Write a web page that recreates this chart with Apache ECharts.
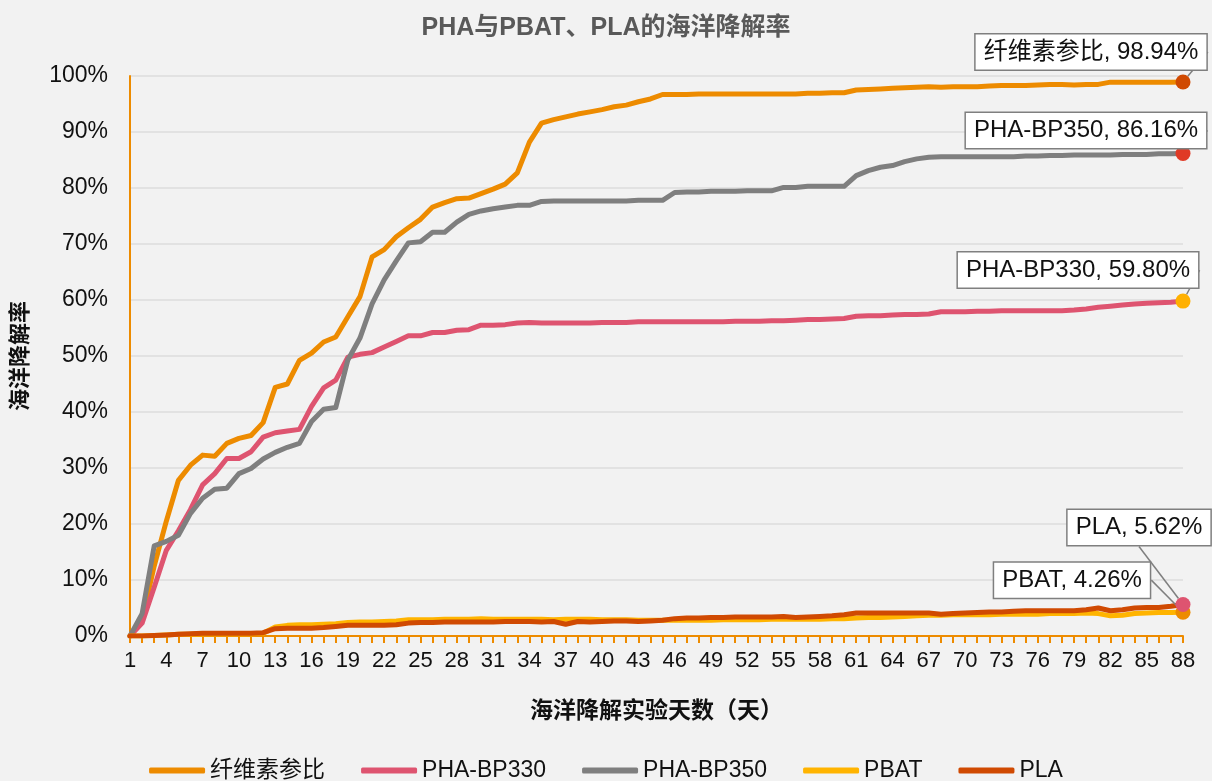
<!DOCTYPE html>
<html>
<head>
<meta charset="utf-8">
<script src="https://cdn.jsdelivr.net/npm/echarts@6/dist/echarts.min.js"></script>
<style>
  html, body { margin: 0; padding: 0; background: #F2F2F2; }
  #chart { width: 1212px; height: 781px; }
</style>
</head>
<body>
<div id="chart"></div>
<script>
// 实验天数 1..88
const days = Array.from({ length: 88 }, (_, i) => String(i + 1));

// 降解率 (%)
const cellulose = [
  0, 3, 12.5, 20.5, 27.8, 30.5, 32.3, 32.1, 34.4, 35.3,
  35.8, 38.1, 44.4, 45.0, 49.2, 50.5, 52.5, 53.4, 57.0, 60.6,
  67.7, 69.0, 71.3, 72.9, 74.4, 76.6, 77.4, 78.1, 78.2, 79.0,
  79.8, 80.7, 82.7, 88.2, 91.6, 92.2, 92.7, 93.2, 93.6, 94.0,
  94.5, 94.8, 95.4, 95.9, 96.7, 96.7, 96.7, 96.8, 96.8, 96.8,
  96.8, 96.8, 96.8, 96.8, 96.8, 96.8, 96.9, 96.9, 97.0, 97.0,
  97.5, 97.6, 97.7, 97.8, 97.9, 98.0, 98.1, 98.0, 98.1, 98.1,
  98.1, 98.2, 98.3, 98.3, 98.3, 98.4, 98.5, 98.5, 98.4, 98.5,
  98.5, 98.9, 98.9, 98.9, 98.9, 98.9, 98.9, 98.94
];
const bp330 = [
  0, 2.3, 8.7, 15.3, 18.8, 22.6, 27.0, 29.0, 31.7, 31.7,
  32.9, 35.5, 36.3, 36.6, 36.9, 41.0, 44.3, 45.7, 49.8, 50.3,
  50.6, 51.6, 52.6, 53.6, 53.6, 54.2, 54.2, 54.6, 54.7, 55.5,
  55.5, 55.6, 55.9, 56.0, 55.9, 55.9, 55.9, 55.9, 55.9, 56.0,
  56.0, 56.0, 56.1, 56.1, 56.1, 56.1, 56.1, 56.1, 56.1, 56.1,
  56.2, 56.2, 56.2, 56.3, 56.3, 56.4, 56.5, 56.5, 56.6, 56.7,
  57.1, 57.2, 57.2, 57.3, 57.4, 57.4, 57.5, 57.9, 57.9, 57.9,
  58.0, 58.0, 58.1, 58.1, 58.1, 58.1, 58.1, 58.1, 58.2, 58.4,
  58.7, 58.9, 59.1, 59.3, 59.4, 59.5, 59.6, 59.80
];
const bp350 = [
  0, 4.0, 16.1, 16.9, 18.0, 21.9, 24.6, 26.2, 26.4, 29.0,
  29.9, 31.6, 32.8, 33.7, 34.4, 38.3, 40.5, 40.8, 49.3, 53.2,
  59.3, 63.6, 67.0, 70.2, 70.4, 72.1, 72.1, 73.9, 75.3, 75.9,
  76.3, 76.6, 76.9, 76.9, 77.6, 77.7, 77.7, 77.7, 77.7, 77.7,
  77.7, 77.7, 77.8, 77.8, 77.8, 79.2, 79.3, 79.3, 79.4, 79.4,
  79.4, 79.5, 79.5, 79.5, 80.1, 80.1, 80.3, 80.3, 80.3, 80.3,
  82.2, 83.1, 83.7, 84.0, 84.7, 85.2, 85.5, 85.6, 85.6, 85.6,
  85.6, 85.6, 85.6, 85.6, 85.7, 85.7, 85.8, 85.8, 85.9, 85.9,
  85.9, 85.9, 86.0, 86.0, 86.0, 86.1, 86.1, 86.16
];
const pbat = [
  0, 0, 0.1, 0.2, 0.3, 0.3, 0.4, 0.4, 0.4, 0.4,
  0.4, 0.5, 1.6, 1.9, 2.0, 2.0, 2.1, 2.2, 2.4, 2.5,
  2.5, 2.6, 2.7, 2.9, 2.9, 2.9, 3.0, 3.0, 3.0, 3.1,
  3.0, 3.0, 3.0, 3.0, 3.0, 2.9, 3.0, 3.0, 3.0, 2.9,
  2.9, 2.9, 2.8, 2.8, 2.8, 2.8, 2.8, 2.8, 2.8, 2.9,
  2.9, 2.9, 2.9, 3.0, 3.0, 3.0, 3.0, 3.0, 3.1, 3.1,
  3.2, 3.3, 3.3, 3.4, 3.5, 3.6, 3.7, 3.7, 3.8, 3.8,
  3.8, 3.8, 3.9, 3.9, 3.9, 3.9, 4.0, 4.0, 4.0, 4.1,
  4.0, 3.6, 3.7, 4.0, 4.1, 4.2, 4.2, 4.26
];
const pla = [
  0, 0, 0.1, 0.2, 0.3, 0.4, 0.5, 0.5, 0.5, 0.5,
  0.5, 0.6, 1.3, 1.4, 1.4, 1.4, 1.5, 1.7, 1.9, 1.9,
  1.9, 1.9, 2.0, 2.3, 2.4, 2.4, 2.5, 2.5, 2.5, 2.5,
  2.5, 2.6, 2.6, 2.6, 2.5, 2.6, 2.1, 2.6, 2.5, 2.6,
  2.7, 2.7, 2.6, 2.7, 2.8, 3.1, 3.2, 3.2, 3.3, 3.3,
  3.4, 3.4, 3.4, 3.4, 3.5, 3.3, 3.4, 3.5, 3.6, 3.8,
  4.1, 4.1, 4.1, 4.1, 4.1, 4.1, 4.1, 3.9, 4.0, 4.1,
  4.2, 4.3, 4.3, 4.4, 4.5, 4.5, 4.5, 4.5, 4.5, 4.7,
  5.0, 4.5, 4.7, 5.0, 5.1, 5.1, 5.3, 5.62
];

const font = '"Liberation Sans", Arial, "Noto Sans CJK SC", sans-serif';

// name, data, line colour, end marker colour, callout offset
const lines = [
  { name: '纤维素参比', data: cellulose, color: '#ED8B00', marker: '#D04A02', dx: -92, dy: -30 },
  { name: 'PHA-BP330', data: bp330, color: '#DE5470', marker: '#FFB000', dx: -105, dy: -31 },
  { name: 'PHA-BP350', data: bp350, color: '#7F7F7F', marker: '#E03A26', dx: -97, dy: -23 },
  { name: 'PBAT', data: pbat, color: '#FFB400', marker: '#ED8B00', dx: -111, dy: -32 },
  { name: 'PLA', data: pla, color: '#D04A02', marker: '#DE5470', dx: -44, dy: -77 }
];

const series = lines.map(s => ({
  name: s.name,
  type: 'line',
  color: s.color,
  symbol: 'none',
  showAllSymbol: true,
  lineStyle: { width: 5, color: s.color, cap: 'round', join: 'round' },
  data: s.data.map((v, i) => i === s.data.length - 1
    ? { value: v, symbol: 'circle', symbolSize: 15, itemStyle: { color: s.marker }, label: { show: true } }
    : v),
  label: {
    show: false,
    position: 'inside',
    formatter: p => p.seriesName + ', ' + p.value.toFixed(2) + '%',
    fontFamily: font,
    fontSize: 24,
    color: '#111',
    backgroundColor: '#FFFFFF',
    borderColor: '#7F7F7F',
    borderWidth: 1.5,
    padding: [6, 8, 5, 8]
  },
  labelLine: { show: true, lineStyle: { color: '#7F7F7F', width: 1.5 } },
  labelLayout: { dx: s.dx, dy: s.dy },
  emphasis: { disabled: true }
}));

const myChart = echarts.init(document.getElementById('chart'));
myChart.setOption({
  backgroundColor: '#F2F2F2',
  animation: false,
  textStyle: { fontFamily: font },
  title: {
    text: 'PHA与PBAT、PLA的海洋降解率',
    left: 'center',
    top: 11,
    textStyle: { fontSize: 25, fontWeight: 'bold', color: '#595959', fontFamily: font }
  },
  legend: {
    top: 754,
    left: 'center',
    icon: 'roundRect',
    itemWidth: 56,
    itemHeight: 6,
    itemGap: 36,
    textStyle: { fontSize: 23, color: '#111', fontFamily: font },
    data: lines.map(s => s.name)
  },
  grid: { left: 130, right: 29, top: 76, bottom: 145 },
  xAxis: {
    type: 'category',
    data: days,
    boundaryGap: false,
    name: '海洋降解实验天数（天）',
    nameLocation: 'middle',
    nameGap: 64,
    nameTextStyle: { fontSize: 23, fontWeight: 'bold', color: '#111', fontFamily: font },
    axisLine: { lineStyle: { color: '#ED8B00', width: 2 } },
    axisTick: { show: true, interval: 0, length: 7, lineStyle: { color: '#ED8B00', width: 2 } },
    axisLabel: { interval: 2, fontSize: 22, color: '#111', margin: 14, fontFamily: font },
    splitLine: { show: false }
  },
  yAxis: {
    type: 'value',
    min: 0,
    max: 100,
    interval: 10,
    name: '海洋降解率',
    nameLocation: 'middle',
    nameRotate: 90,
    nameGap: 98,
    nameTextStyle: { fontSize: 22, fontWeight: 'bold', color: '#111', fontFamily: font },
    axisLine: { show: true, lineStyle: { color: '#ED8B00', width: 2 } },
    axisTick: { show: false },
    axisLabel: { formatter: '{value}%', fontSize: 23, color: '#111', margin: 22, fontFamily: font },
    splitLine: { lineStyle: { color: '#DCDCDC', width: 1.5 } }
  },
  series: series
});
</script>
</body>
</html>
